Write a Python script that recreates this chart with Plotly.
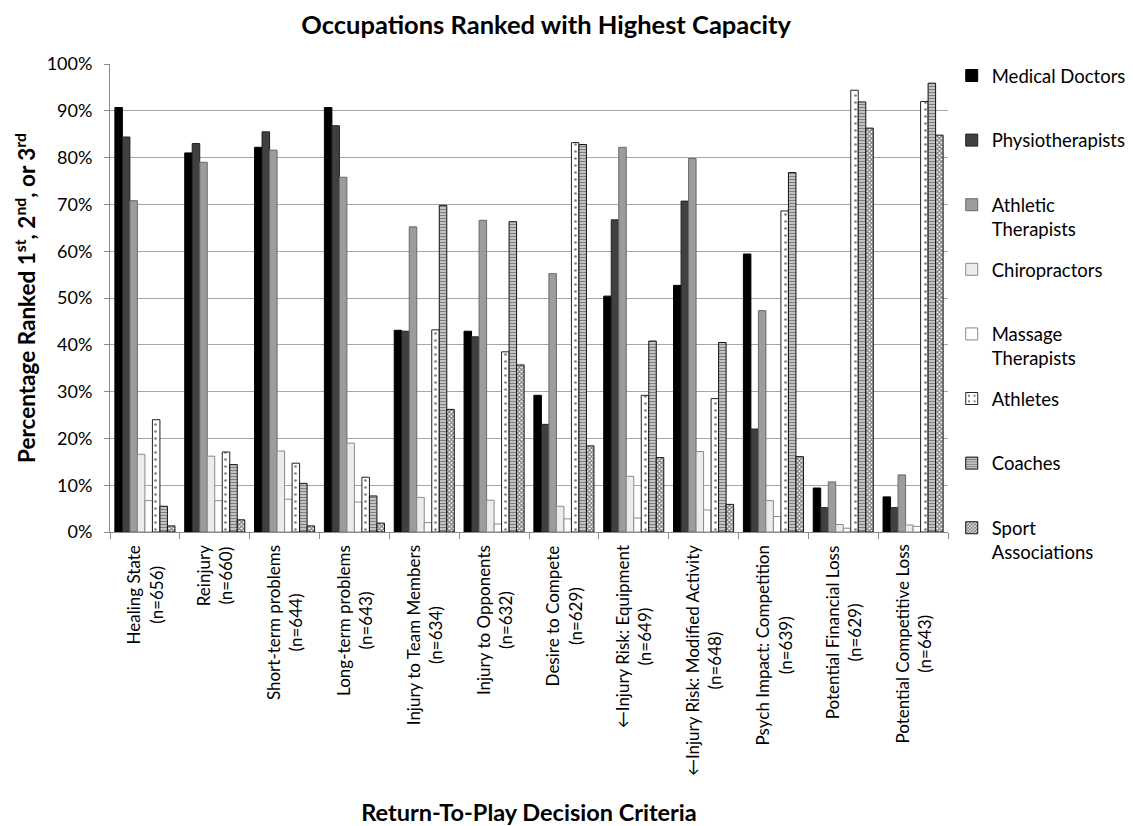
import plotly.graph_objects as go

# Return-to-play decision criteria (x categories) and their sample sizes
criteria = [
    "Healing State",
    "Reinjury",
    "Short-term problems",
    "Long-term problems",
    "Injury to Team Members",
    "Injury to Opponents",
    "Desire to Compete",
    "←Injury Risk: Equipment",
    "←Injury Risk: Modified Activity",
    "Psych Impact: Competition",
    "Potential Financial Loss",
    "Potential Competitive Loss",
]
sample_sizes = [656, 660, 644, 643, 634, 632, 629, 649, 648, 639, 629, 643]

# Percentage of respondents ranking each occupation 1st, 2nd or 3rd
medical_doctors = [90.7, 81.0, 82.2, 90.7, 43.1, 42.9, 29.2, 50.4, 52.7, 59.4, 9.4, 7.5]
physiotherapists = [84.4, 83.0, 85.5, 86.8, 42.9, 41.7, 23.0, 66.7, 70.7, 22.0, 5.2, 5.2]
athletic_therapists = [70.8, 79.0, 81.6, 75.8, 65.2, 66.6, 55.2, 82.2, 79.8, 47.3, 10.7, 12.2]
chiropractors = [16.6, 16.2, 17.3, 19.0, 7.4, 6.8, 5.5, 11.9, 17.2, 6.7, 1.6, 1.5]
massage_therapists = [6.7, 6.7, 7.0, 6.4, 2.0, 1.7, 2.8, 3.0, 4.7, 3.3, 0.8, 1.2]
athletes = [24.0, 17.1, 14.7, 11.7, 43.2, 38.5, 83.2, 29.2, 28.5, 68.6, 94.4, 92.0]
coaches = [5.5, 14.4, 10.4, 7.7, 69.8, 66.3, 82.8, 40.8, 40.5, 76.8, 91.9, 95.9]
sport_associations = [1.3, 2.6, 1.3, 1.9, 26.2, 35.7, 18.4, 15.9, 5.9, 16.1, 86.3, 84.8]

# Legend entries; every entry takes two lines so the items are evenly spaced
series_names = [
    "Medical Doctors<br> ",
    "Physiotherapists<br> ",
    "Athletic<br>Therapists",
    "Chiropractors<br> ",
    "Massage<br>Therapists",
    "Athletes<br> ",
    "Coaches<br> ",
    "Sport<br>Associations",
]
series_values = [
    medical_doctors, physiotherapists, athletic_therapists, chiropractors,
    massage_therapists, athletes, coaches, sport_associations,
]

# fill, outline, pattern shape, pattern size, pattern solidity
styles = [
    ("#000000", "#000000", "", 0, 0),
    ("#404040", "#202020", "", 0, 0),
    ("#9c9c9c", "#6a6a6a", "", 0, 0),
    ("#ececec", "#8a8a8a", "", 0, 0),
    ("#ffffff", "#8a8a8a", "", 0, 0),
    ("#ffffff", "#222222", ".", 7, 0.12),
    ("#ffffff", "#111111", "-", 3, 0.65),
    ("#ffffff", "#111111", "x", 3, 0.65),
]

font_family = "Lato, 'Open Sans', sans-serif"

fig = go.Figure()
for name, vals, (fill, edge, shape, size, solid) in zip(series_names, series_values, styles):
    marker = dict(color=fill, line=dict(color=edge, width=1))
    if shape:
        marker["pattern"] = dict(shape=shape, fgcolor="#000000", bgcolor="#ffffff",
                                 size=size, solidity=solid, fillmode="overlay")
    fig.add_trace(go.Bar(
        x=criteria, y=vals, name=name, marker=marker,
        legendgroup=name.split("<br>")[0],
    ))

# Rotated category labels, two centred lines each, hanging below the axis
for cat, n in zip(criteria, sample_sizes):
    fig.add_annotation(
        x=cat, xref="x", y=0, yref="y",
        text=f"{cat}<br>(n={n})",
        textangle=-90, xanchor="center", yanchor="top", yshift=-11,
        align="center", showarrow=False,
        font=dict(size=17, family=font_family, color="#000000"),
    )

fig.update_layout(
    width=1133, height=826,
    margin=dict(l=110, r=185, t=64, b=294),
    paper_bgcolor="white", plot_bgcolor="white",
    font=dict(family=font_family, size=16, color="#000000"),
    barmode="group", bargap=0.14, bargroupgap=0,
    title=dict(
        text="Occupations Ranked with Highest Capacity",
        x=0.482, xanchor="center", y=0.97, yanchor="middle",
        font=dict(size=25.5, weight="bold", family=font_family),
    ),
    legend=dict(
        xref="container", yref="container",
        x=0.840, xanchor="left", y=0.931, yanchor="top",
        font=dict(size=18.5), valign="top",
        tracegroupgap=13.5, itemwidth=30, maxheight=780,
        bgcolor="rgba(0,0,0,0)",
    ),
    showlegend=True,
)

fig.update_yaxes(
    range=[0, 100], dtick=10, ticksuffix="%",
    showgrid=True, gridcolor="#a6a6a6", gridwidth=1,
    showline=True, linecolor="#8c8c8c", linewidth=1,
    ticks="outside", ticklen=5, tickcolor="#8c8c8c",
    tickfont=dict(size=18), ticklabelstandoff=8,
    zeroline=False, automargin=False,
    title=dict(
        text="Percentage Ranked 1<sup>st</sup>, 2<sup>nd</sup>, or 3<sup>rd</sup>",
        font=dict(size=22.5, weight="bold"), standoff=4,
    ),
)

fig.update_xaxes(
    showticklabels=False, automargin=False,
    showline=True, linecolor="#8c8c8c", linewidth=1,
    ticks="outside", ticklen=6, tickcolor="#8c8c8c", tickson="boundaries",
    title=dict(text="Return-To-Play Decision Criteria",
               font=dict(size=23.5, weight="bold"), standoff=275),
)

fig.write_html("out.html")
